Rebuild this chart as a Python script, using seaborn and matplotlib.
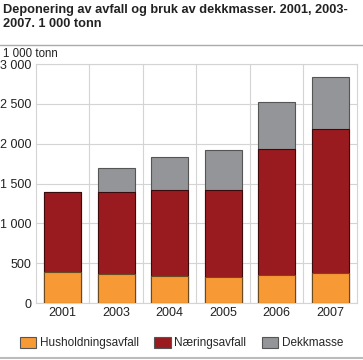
import matplotlib
matplotlib.use("Agg")
import matplotlib.pyplot as plt
import matplotlib.patches as mpatches
import seaborn as sns
import pandas as pd

# Data (1 000 tonn)
years = ["2001", "2003", "2004", "2005", "2006", "2007"]
husholdning = [385, 360, 345, 330, 348, 376]
naering = [1015, 1040, 1080, 1085, 1585, 1805]
dekkmasse = [0, 300, 415, 510, 593, 660]

series_names = ["Husholdningsavfall", "Næringsavfall", "Dekkmasse"]
colors = ["#F79A36", "#9A1B1F", "#939598"]

sns.set_style("white")
plt.rcParams["font.family"] = ["Liberation Sans", "DejaVu Sans"]

df = pd.DataFrame({"year": years, "h": husholdning, "n": naering, "d": dekkmasse})
df["hn"] = df["h"] + df["n"]
df["total"] = df["hn"] + df["d"]

fig = plt.figure(figsize=(3.63, 3.60), dpi=100)
ax = fig.add_axes([0.099, 0.158, 0.884, 0.664])

# Stacked bars drawn back to front
for col, c, ec in [("total", colors[2], "#555555"), ("hn", colors[1], "#3a0a0c"), ("h", colors[0], "#6b4a20")]:
    sns.barplot(data=df, x="year", y=col, color=c, width=0.69, edgecolor=ec,
                linewidth=0.8, saturation=1, ax=ax, zorder=3)

ax.set_ylim(0, 3000)
ax.set_xlim(-0.5, len(years) - 0.5)
ax.set_yticks(range(0, 3001, 500))
ax.set_yticklabels([f"{v:,}".replace(",", " ") for v in range(0, 3001, 500)])
ax.set_xlabel("")
ax.set_ylabel("")
ax.grid(axis="y", color="#d4d4d4", linewidth=0.8, zorder=0)
for x in [i + 0.5 for i in range(len(years) - 1)]:
    ax.axvline(x, color="#d4d4d4", linewidth=0.8, zorder=0)
for s in ["left", "right", "top", "bottom"]:
    ax.spines[s].set_color("#d4d4d4")
    ax.spines[s].set_linewidth(0.8)
ax.tick_params(axis="both", length=0, labelsize=9, colors="#222222", pad=3)

# Titles
fig.text(0.008, 0.988, "Deponering av avfall og bruk av dekkmasser. 2001, 2003-\n2007. 1 000 tonn",
         fontsize=9.2, fontweight="bold", va="top", ha="left", color="#222222", linespacing=1.15)
fig.add_artist(plt.Line2D([0, 1], [0.875, 0.875], color="#aaaaaa", linewidth=1))
fig.text(0.008, 0.85, "1 000 tonn", fontsize=8.3, va="center", ha="left", color="#222222")

# Legend
handles = [mpatches.Patch(facecolor=c, edgecolor="#555555", linewidth=0.8) for c in colors]
fig.legend(handles, series_names, loc="center", bbox_to_anchor=(0.5, 0.047), ncol=3,
           frameon=False, fontsize=8.5, handlelength=1.4, handleheight=1.1,
           handletextpad=0.3, columnspacing=1.3)
fig.add_artist(plt.Line2D([0, 1], [0.005, 0.005], color="#bbbbbb", linewidth=1.5))

fig.savefig("out.png", dpi=100)
